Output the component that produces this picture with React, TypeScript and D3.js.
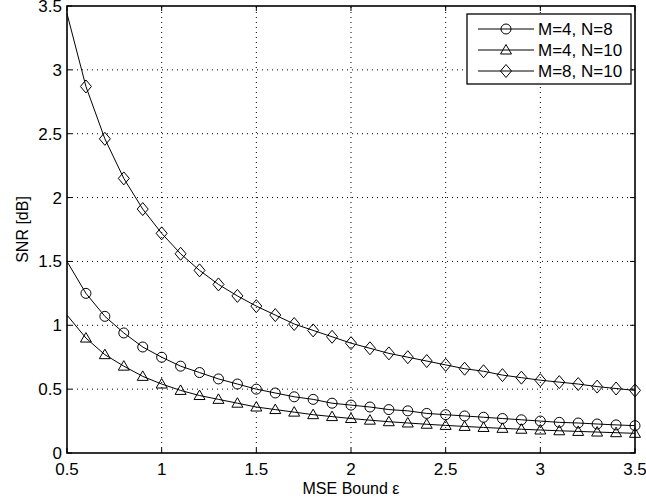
import React from 'react'
import * as d3 from 'd3'

const WIDTH = 646
const HEIGHT = 501
const MARGIN = { left: 67, right: 11, top: 6, bottom: 48 }
const FONT = 'Liberation Sans, Arial, Helvetica, sans-serif'

// x positions: line begins at 0.5, markers are drawn from 0.6 on
const X_VALUES = [0.5, 0.6, 0.7, 0.8, 0.9, 1.0, 1.1, 1.2, 1.3, 1.4, 1.5, 1.6, 1.7, 1.8, 1.9, 2.0,
  2.1, 2.2, 2.3, 2.4, 2.5, 2.6, 2.7, 2.8, 2.9, 3.0, 3.1, 3.2, 3.3, 3.4, 3.5]

const M4_N8 = [1.5, 1.25, 1.07, 0.94, 0.83, 0.75, 0.68, 0.63, 0.58, 0.54, 0.5, 0.47, 0.44, 0.42, 0.39, 0.375,
  0.36, 0.34, 0.33, 0.31, 0.3, 0.29, 0.28, 0.27, 0.26, 0.25, 0.24, 0.235, 0.227, 0.22, 0.214]
const M4_N10 = [1.08, 0.9, 0.77, 0.68, 0.6, 0.54, 0.49, 0.45, 0.42, 0.39, 0.36, 0.34, 0.32, 0.3, 0.285, 0.27,
  0.257, 0.245, 0.235, 0.225, 0.216, 0.208, 0.2, 0.193, 0.186, 0.18, 0.174, 0.169, 0.164, 0.159, 0.154]
const M8_N10 = [3.44, 2.87, 2.46, 2.15, 1.91, 1.72, 1.56, 1.43, 1.32, 1.23, 1.15, 1.08, 1.01, 0.96, 0.91, 0.86,
  0.82, 0.78, 0.75, 0.72, 0.69, 0.66, 0.64, 0.61, 0.59, 0.57, 0.555, 0.54, 0.52, 0.505, 0.49]

const X_TICKS = [0.5, 1, 1.5, 2, 2.5, 3, 3.5]
const Y_TICKS = [0, 0.5, 1, 1.5, 2, 2.5, 3, 3.5]

const SERIES = [
  { label: 'M=4, N=8', values: M4_N8, marker: 'circle' },
  { label: 'M=4, N=10', values: M4_N10, marker: 'triangle' },
  { label: 'M=8, N=10', values: M8_N10, marker: 'diamond' },
]

function Marker({ type, x, y }: { type: string, x: number, y: number }) {
  const style = { fill: 'none', stroke: '#000', strokeWidth: 1 }
  if (type === 'circle') return <circle cx={x} cy={y} r={5} {...style} />
  if (type === 'triangle') {
    return <path d={`M${x},${y - 5.5}L${x + 5.5},${y + 4}L${x - 5.5},${y + 4}Z`} {...style} />
  }
  return <path d={`M${x},${y - 6.5}L${x + 5.5},${y}L${x},${y + 6.5}L${x - 5.5},${y}Z`} {...style} />
}

export default function App() {
  const x = d3.scaleLinear().domain([0.5, 3.5]).range([MARGIN.left, WIDTH - MARGIN.right])
  const y = d3.scaleLinear().domain([0, 3.5]).range([HEIGHT - MARGIN.bottom, MARGIN.top])
  const [x0, x1] = x.range()
  const [y0, y1] = y.range()

  const line = d3.line<number>()
    .x((d, i) => x(X_VALUES[i]))
    .y((d) => y(d))

  const legend = { left: 467, top: 14, width: 164, rowHeight: 21 }

  return (
    <svg width={WIDTH} height={HEIGHT} style={{ position: 'absolute', left: 0, top: 0, background: '#fff' }}>
      {/* grid */}
      <g stroke="#000" strokeWidth={1} strokeDasharray="1,4">
        {X_TICKS.slice(1, -1).map((t) => (
          <line key={'gx' + t} x1={x(t)} x2={x(t)} y1={y0} y2={y1} />
        ))}
        {Y_TICKS.slice(1, -1).map((t) => (
          <line key={'gy' + t} x1={x0} x2={x1} y1={y(t)} y2={y(t)} />
        ))}
      </g>

      {/* ticks, inward on every side */}
      <g stroke="#000" strokeWidth={1}>
        {X_TICKS.map((t) => (
          <g key={'tx' + t}>
            <line x1={x(t)} x2={x(t)} y1={y0} y2={y0 - 5} />
            <line x1={x(t)} x2={x(t)} y1={y1} y2={y1 + 5} />
          </g>
        ))}
        {Y_TICKS.map((t) => (
          <g key={'ty' + t}>
            <line x1={x0} x2={x0 + 5} y1={y(t)} y2={y(t)} />
            <line x1={x1} x2={x1 - 5} y1={y(t)} y2={y(t)} />
          </g>
        ))}
      </g>

      {/* series */}
      {SERIES.map((s) => (
        <g key={s.label}>
          <path d={line(s.values) || ''} fill="none" stroke="#000" strokeWidth={1} />
          {s.values.slice(1).map((v, i) => (
            <Marker key={i} type={s.marker} x={x(X_VALUES[i + 1])} y={y(v)} />
          ))}
        </g>
      ))}

      {/* axes box */}
      <rect x={x0} y={y1} width={x1 - x0} height={y0 - y1} fill="none" stroke="#000" strokeWidth={1.6} />

      {/* tick labels */}
      <g fontFamily={FONT} fontSize={17} fill="#000">
        {X_TICKS.map((t) => (
          <text key={'lx' + t} x={x(t)} y={y0 + 22} textAnchor="middle">{d3.format('~g')(t)}</text>
        ))}
        {Y_TICKS.map((t) => (
          <text key={'ly' + t} x={x0 - 5} y={y(t) + 6} textAnchor="end">{d3.format('~g')(t)}</text>
        ))}
      </g>

      {/* axis labels */}
      <text x={(x0 + x1) / 2} y={y0 + 41} textAnchor="middle" fontFamily={FONT} fontSize={16}>MSE Bound ε</text>
      <text transform={`translate(28,${(y0 + y1) / 2}) rotate(-90)`} textAnchor="middle"
        fontFamily={FONT} fontSize={16}>SNR [dB]</text>

      {/* legend */}
      <g>
        <rect x={legend.left} y={legend.top} width={legend.width} height={legend.rowHeight * 3 + 7}
          fill="#fff" stroke="#000" strokeWidth={1.3} />
        {SERIES.map((s, i) => {
          const cy = legend.top + 15 + i * legend.rowHeight
          return (
            <g key={'lg' + s.label}>
              <line x1={legend.left + 11} x2={legend.left + 67} y1={cy} y2={cy} stroke="#000" strokeWidth={1} />
              <Marker type={s.marker} x={legend.left + 39} y={cy} />
              <text x={legend.left + 71} y={cy + 6} fontFamily={FONT} fontSize={17}>{s.label}</text>
            </g>
          )
        })}
      </g>
    </svg>
  )
}
